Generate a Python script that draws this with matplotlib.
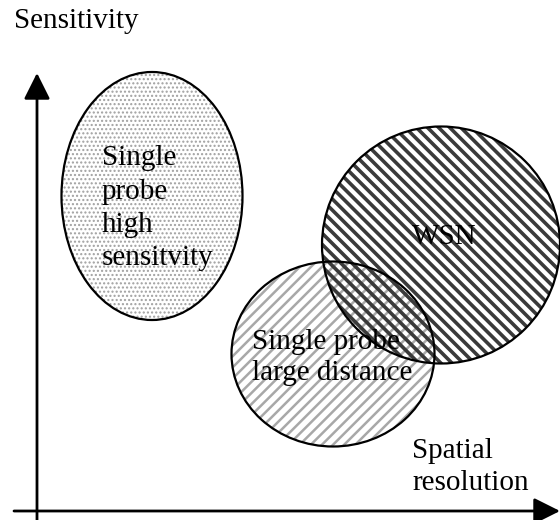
import matplotlib
matplotlib.use("Agg")
import matplotlib.pyplot as plt
from matplotlib.patches import Ellipse

plt.rcParams['font.family'] = ['Liberation Serif', 'DejaVu Serif']

# Regions (in pixel-like diagram units, y downward)
region_labels = ["Single\nprobe\nhigh\nsensitvity", "Single probe\nlarge distance", "WSN"]
region_cx = [152, 333, 441]
region_cy = [196, 354, 245]
region_w = [181, 203, 238]
region_h = [248, 185, 237]
region_hatch = ["....", "///", "\\\\\\"]
region_hatch_color = ["#a0a0a0", "#a8a8a8", "#3a3a3a"]
region_hatch_lw = [1.0, 1.8, 2.6]
label_x = [102, 252, 412]
label_y = [265, 380, 244]  # baseline of last line
label_ls = [1.36, 1.27, 1.3]

axis_labels = ["Sensitivity", "Spatial\nresolution"]

fig = plt.figure(figsize=(5.6, 5.2), dpi=100)
ax = fig.add_axes([0, 0, 1, 1])
ax.set_xlim(0, 560)
ax.set_ylim(520, 0)
ax.axis('off')

for i in range(3):
    with plt.rc_context({'hatch.linewidth': region_hatch_lw[i],
                         'hatch.color': region_hatch_color[i]}):
        e = Ellipse((region_cx[i], region_cy[i]), region_w[i], region_h[i],
                    facecolor='none', edgecolor=region_hatch_color[i],
                    hatch=region_hatch[i], lw=0, zorder=1 + i)
        ax.add_patch(e)
    ax.add_patch(Ellipse((region_cx[i], region_cy[i]), region_w[i], region_h[i],
                         facecolor='none', edgecolor='black', lw=1.6, zorder=5))

fs = 21
for i in range(3):
    ax.text(label_x[i], label_y[i], region_labels[i], fontsize=fs,
            ha='left', va='baseline', linespacing=label_ls[i], zorder=10)

ax.text(14, 28, axis_labels[0], fontsize=fs, ha='left', va='baseline')
ax.text(412, 490, axis_labels[1], fontsize=fs, ha='left', va='baseline',
        linespacing=1.3, multialignment='left')

# axes with arrows
ax.annotate('', xy=(37, 73), xytext=(37, 520),
            arrowprops=dict(arrowstyle='-|>,head_length=0.8,head_width=0.4',
                            lw=2, color='black', shrinkA=0, shrinkB=0,
                            mutation_scale=20))
ax.annotate('', xy=(560, 511), xytext=(14, 511),
            arrowprops=dict(arrowstyle='-|>,head_length=0.8,head_width=0.4',
                            lw=2, color='black', shrinkA=0, shrinkB=0,
                            mutation_scale=20))

fig.savefig('out.png', dpi=100)
